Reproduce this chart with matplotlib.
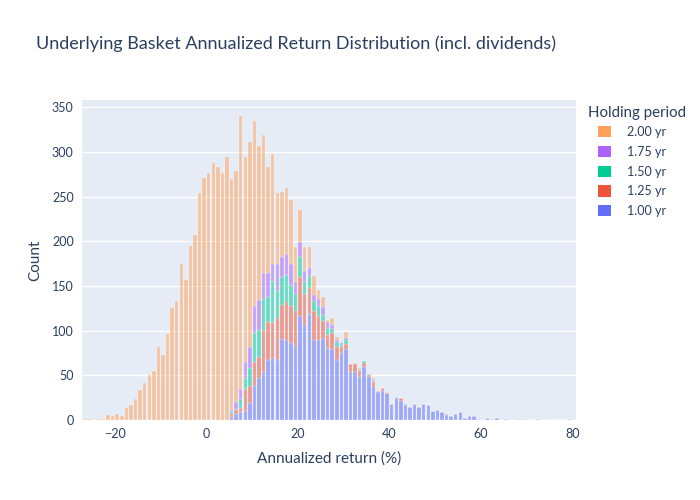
#stacked histogram of annualized basket returns per holding period
import matplotlib.pyplot as plt
from matplotlib.patches import Patch

plt.rcParams['font.family'] = ['Lato', 'DejaVu Sans']

#bins are 1 % wide, bin k covers [k, k+1)
first_bin = -27
last_bin = 80

periods = ['1.00 yr', '1.25 yr', '1.50 yr', '1.75 yr', '2.00 yr']
colors = ['#636EFA', '#EF553B', '#00CC96', '#AB63FA', '#FFA15A']

#counts per series, starting at the given bin
start_100 = 5
counts_100 = [3, 7, 9, 10, 19, 38, 47, 54, 67, 69, 67, 91, 89, 86, 83, 116, 106, 119, 90, 90,
              91, 81, 79, 67, 75, 79, 54, 54, 48, 59, 48, 37, 31, 33, 30, 18, 25, 21, 17, 15,
              18, 14, 18, 17, 10, 11, 9, 6, 5, 7, 9, 2, 5, 4, 1, 0, 2, 1, 2, 0,
              1, 0, 0, 1, 1, 0, 0, 1, 0, 0, 0, 0, 0, 0, 1]
start_125 = 5
counts_125 = [4, 4, 4, 25, 19, 27, 24, 47, 43, 41, 47, 38, 43, 41, 39, 44, 35, 29, 32, 26,
              20, 14, 18, 15, 7, 6, 9, 9, 7, 5, 2, 6, 2, 3, 0, 0, 0, 4, 0, 0,
              0, 0, 0, 0, 0, 0, 0, 1]
start_150 = 5
counts_150 = [2, 1, 10, 12, 20, 32, 30, 34, 28, 45, 30, 31, 30, 24, 19, 22, 13, 13, 11, 12,
              6, 8, 5, 5, 2, 5, 0, 0, 1, 2, 1, 1, 0, 0, 0, 0, 1, 0, 1]
start_175 = 5
counts_175 = [2, 8, 12, 18, 24, 31, 33, 29, 27, 20, 31, 22, 24, 23, 13, 17, 13, 9, 7, 7,
              9, 7, 4, 3, 2, 2, 0, 0, 0, 0, 1, 1]
start_200 = -27
counts_200 = [1, 1, 0, 1, 1, 6, 5, 7, 5, 13, 17, 24, 34, 41, 50, 55, 82, 73, 96, 125,
              133, 175, 157, 195, 207, 254, 271, 276, 288, 283, 276, 294,
              259, 259, 305, 229, 229, 206, 172, 155, 118, 123, 79, 73, 73, 72, 40, 36, 26, 23,
              21, 10, 12, 2, 8, 3, 1, 7, 0, 1, 2, 0, 0, 2, 0, 0, 1]

starts = [start_100, start_125, start_150, start_175, start_200]
series = [counts_100, counts_125, counts_150, counts_175, counts_200]

n_bins = last_bin - first_bin + 1
bin_left = [first_bin + i for i in range(n_bins)]

fig = plt.figure(figsize=(7, 5), dpi=100)
ax = fig.add_axes([82/700, 80/500, 494/700, 320/500])
ax.set_facecolor('#E5ECF6')

bottom = [0] * n_bins
for start, counts, color in zip(starts, series, colors):
    full = [0] * n_bins
    for i, c in enumerate(counts):
        full[start - first_bin + i] = c
    ax.bar([b + 0.5 for b in bin_left], full, width=0.76, bottom=bottom,
           color=color, alpha=0.55, edgecolor='white', linewidth=0.3, zorder=2)
    bottom = [b + f for b, f in zip(bottom, full)]

#axes look
ax.set_xlim(-27.2, 80.8)
ax.set_ylim(0, 358)
ax.set_xticks([-20, 0, 20, 40, 60, 80])
ax.set_xticklabels(['\u221220', '0', '20', '40', '60', '80'])
ax.set_yticks(range(0, 351, 50))
ax.grid(True, axis='y', color='white', linewidth=1, zorder=1)
for s in ax.spines.values():
    s.set_visible(False)
ax.tick_params(length=0, labelsize=9, colors='#2a3f5f', pad=6)

ax.set_xlabel('Annualized return (%)', fontsize=11, color='#2a3f5f', labelpad=8)
ax.set_ylabel('Count', fontsize=11, color='#2a3f5f', labelpad=7)
fig.text(36/700, 1 - 44/500, 'Underlying Basket Annualized Return Distribution (incl. dividends)',
         fontsize=13, color='#2a3f5f', va='center', ha='left')

#legend, top item is the last trace like plotly does for stacks
fig.text(588/700, 1 - 113/500, 'Holding period', fontsize=10.8, color='#2a3f5f',
         va='center', ha='left')
handles = [Patch(facecolor=c, edgecolor='none') for c in colors][::-1]
leg = fig.legend(handles, periods[::-1], loc='upper left',
                 bbox_to_anchor=(598/700, 1 - 126/500), frameon=False, fontsize=9,
                 handlelength=1.0, handleheight=1.0,
                 labelspacing=0.62, handletextpad=1.3, borderaxespad=0, borderpad=0)
for t in leg.get_texts():
    t.set_color('#2a3f5f')

plt.savefig('out.png', dpi=100)
